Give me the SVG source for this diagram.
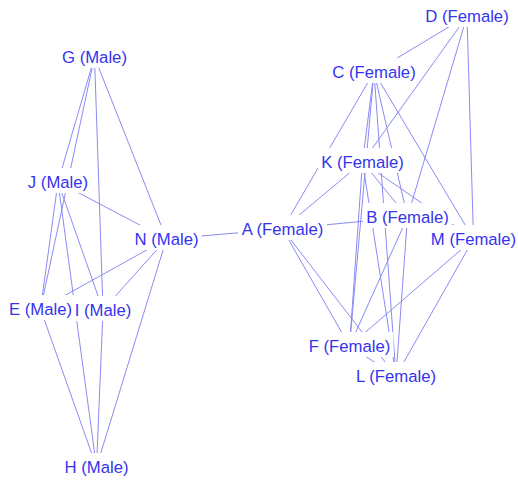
<svg xmlns="http://www.w3.org/2000/svg" width="518" height="480" viewBox="0 0 518 480">
  <style>
    .link { stroke: #8a8af5; stroke-width: 1; fill: none; }
    .bg { fill: #ffffff; }
    .label { font-family: "Liberation Sans", Arial, Helvetica, sans-serif; font-size: 16.7px; fill: #3434ee; text-anchor: middle; }
  </style>
  <rect width="518" height="480" fill="#ffffff"/>

  <!-- connectors run between label centres; label backgrounds hide their ends -->
  <g id="links">
    <!-- male group -->
    <line class="link" x1="94.5" y1="57" x2="58" y2="182"/>
    <line class="link" x1="94.5" y1="57" x2="40.5" y2="309"/>
    <line class="link" x1="94.5" y1="57" x2="103" y2="310"/>
    <line class="link" x1="94.5" y1="57" x2="166.5" y2="239"/>
    <line class="link" x1="58" y1="182" x2="40.5" y2="309"/>
    <line class="link" x1="58" y1="182" x2="103" y2="310"/>
    <line class="link" x1="58" y1="182" x2="96.5" y2="467"/>
    <line class="link" x1="58" y1="182" x2="166.5" y2="239"/>
    <line class="link" x1="166.5" y1="239" x2="40.5" y2="309"/>
    <line class="link" x1="166.5" y1="239" x2="103" y2="310"/>
    <line class="link" x1="166.5" y1="239" x2="96.5" y2="467"/>
    <line class="link" x1="40.5" y1="309" x2="96.5" y2="467"/>
    <line class="link" x1="103" y1="310" x2="96.5" y2="467"/>
    <!-- bridge -->
    <line class="link" x1="166.5" y1="239" x2="282.5" y2="229"/>
    <!-- female group -->
    <line class="link" x1="282.5" y1="229" x2="374" y2="72"/>
    <line class="link" x1="282.5" y1="229" x2="362.5" y2="162"/>
    <line class="link" x1="282.5" y1="229" x2="407.5" y2="217"/>
    <line class="link" x1="282.5" y1="229" x2="349.5" y2="346"/>
    <line class="link" x1="282.5" y1="229" x2="396" y2="376"/>
    <line class="link" x1="467" y1="16" x2="374" y2="72"/>
    <line class="link" x1="467" y1="16" x2="362.5" y2="162"/>
    <line class="link" x1="467" y1="16" x2="407.5" y2="217"/>
    <line class="link" x1="467" y1="16" x2="473.5" y2="239"/>
    <line class="link" x1="374" y1="72" x2="362.5" y2="162"/>
    <line class="link" x1="374" y1="72" x2="349.5" y2="346"/>
    <line class="link" x1="374" y1="72" x2="396" y2="376"/>
    <line class="link" x1="374" y1="72" x2="407.5" y2="217"/>
    <line class="link" x1="374" y1="72" x2="473.5" y2="239"/>
    <line class="link" x1="362.5" y1="162" x2="349.5" y2="346"/>
    <line class="link" x1="362.5" y1="162" x2="396" y2="376"/>
    <line class="link" x1="362.5" y1="162" x2="407.5" y2="217"/>
    <line class="link" x1="362.5" y1="162" x2="473.5" y2="239"/>
    <line class="link" x1="407.5" y1="217" x2="349.5" y2="346"/>
    <line class="link" x1="407.5" y1="217" x2="396" y2="376"/>
    <line class="link" x1="473.5" y1="239" x2="349.5" y2="346"/>
    <line class="link" x1="473.5" y1="239" x2="396" y2="376"/>
    <line class="link" x1="349.5" y1="346" x2="396" y2="376"/>
  </g>

  <!-- labels: white box behind each text, baseline at y -->
  <g id="node-G"><rect class="bg" x="59" y="43" width="71" height="25"/><text class="label" x="94.5" y="63">G (Male)</text></g>
  <g id="node-J"><rect class="bg" x="25" y="168" width="66" height="25"/><text class="label" x="58" y="188">J (Male)</text></g>
  <g id="node-N"><rect class="bg" x="131.5" y="225" width="70" height="25"/><text class="label" x="166.5" y="245">N (Male)</text></g>
  <g id="node-E"><rect class="bg" x="6" y="295" width="69" height="25"/><text class="label" x="40.5" y="315">E (Male)</text></g>
  <g id="node-I"><rect class="bg" x="72" y="296" width="62" height="25"/><text class="label" x="103" y="316">I (Male)</text></g>
  <g id="node-H"><rect class="bg" x="61.5" y="453" width="70" height="25"/><text class="label" x="96.5" y="473">H (Male)</text></g>
  <g id="node-A"><rect class="bg" x="238" y="215" width="89" height="25"/><text class="label" x="282.5" y="235">A (Female)</text></g>
  <g id="node-D"><rect class="bg" x="422" y="2" width="90" height="25"/><text class="label" x="467" y="22">D (Female)</text></g>
  <g id="node-C"><rect class="bg" x="329" y="58" width="90" height="25"/><text class="label" x="374" y="78">C (Female)</text></g>
  <g id="node-K"><rect class="bg" x="318" y="148" width="89" height="25"/><text class="label" x="362.5" y="168">K (Female)</text></g>
  <g id="node-B"><rect class="bg" x="363" y="203" width="89" height="25"/><text class="label" x="407.5" y="223">B (Female)</text></g>
  <g id="node-M"><rect class="bg" x="428" y="225" width="91" height="25"/><text class="label" x="473.5" y="245">M (Female)</text></g>
  <g id="node-F"><rect class="bg" x="305.5" y="332" width="88" height="25"/><text class="label" x="349.5" y="352">F (Female)</text></g>
  <g id="node-L"><rect class="bg" x="352.5" y="362" width="87" height="25"/><text class="label" x="396" y="382">L (Female)</text></g>
</svg>
